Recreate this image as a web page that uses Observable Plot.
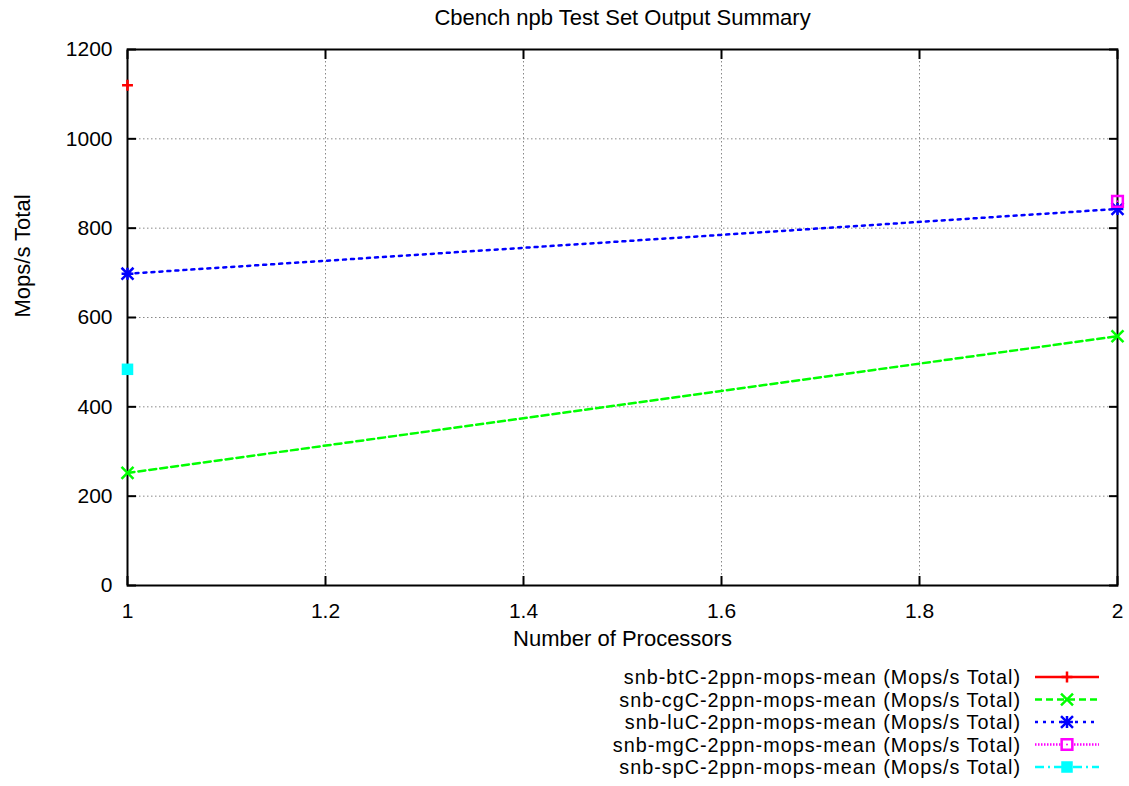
<!DOCTYPE html>
<html><head><meta charset="utf-8">
<script src="https://cdn.jsdelivr.net/npm/d3@7"></script>
<script src="https://cdn.jsdelivr.net/npm/@observablehq/plot@0.6"></script>
<style>
html,body{margin:0;padding:0;background:#fff;}
#wrap{position:relative;width:1129px;height:786px;font-family:"Liberation Sans",Arial,sans-serif;}
#legend{position:absolute;left:0;top:0;pointer-events:none;}
</style></head><body><div id="wrap"></div>
<script>
// ---- data ----
const chartTitle = "Cbench npb Test Set Output Summary";
const xLabel = "Number of Processors";
const yLabel = "Mops/s Total";
const seriesNames = [
  "snb-btC-2ppn-mops-mean (Mops/s Total)",
  "snb-cgC-2ppn-mops-mean (Mops/s Total)",
  "snb-luC-2ppn-mops-mean (Mops/s Total)",
  "snb-mgC-2ppn-mops-mean (Mops/s Total)",
  "snb-spC-2ppn-mops-mean (Mops/s Total)"
];
const seriesX = [[1], [1, 2], [1, 2], [2], [1]];
const seriesY = [[1120], [252, 558], [698, 843], [860], [484]];
const xTicks = [1, 1.2, 1.4, 1.6, 1.8, 2];
const yTicks = [0, 200, 400, 600, 800, 1000, 1200];

// ---- styles ----
const seriesColors = ["#ff0000", "#00ff00", "#0000ff", "#ff00ff", "#00ffff"];
const seriesDash = [null, "7,4", "3,5", "1.5,1.5", "9,4,2,4"];
// symbol lists: [symbolName, r, filled]
const seriesSymbols = [
  [["plus", 3.6, false]],
  [["times", 5.5, false]],
  [["plus", 3.9, false], ["times", 5.5, false]],
  [["square2", 6.8, false], ["circle", 1, true]],
  [["square", 6.5, true]]
];

const rows = seriesNames.flatMap((name, i) =>
  seriesX[i].map((x, j) => ({series: name, idx: i, x, y: seriesY[i][j]})));

const FONT = '"Liberation Sans", Arial, sans-serif';
const marks = [
  Plot.gridX(xTicks, {stroke: "#888", strokeOpacity: 1, strokeWidth: 1, strokeDasharray: "1.5,2.5"}),
  Plot.gridY(yTicks, {stroke: "#888", strokeOpacity: 1, strokeWidth: 1, strokeDasharray: "1.5,2.5"}),
  Plot.frame({stroke: "black", strokeWidth: 2}),
  Plot.axisX({ticks: xTicks, tickSize: -9, tickPadding: 27, strokeWidth: 2, label: null, fontSize: 21,
              tickFormat: d => String(d)}),
  Plot.axisX({anchor: "top", ticks: xTicks, tickSize: -9, strokeWidth: 2, label: null, tickFormat: () => ""}),
  Plot.axisY({ticks: yTicks, tickSize: -9, tickPadding: 24, strokeWidth: 2, label: null, fontSize: 21,
              tickFormat: d => String(d)}),
  Plot.axisY({anchor: "right", ticks: yTicks, tickSize: -9, strokeWidth: 2, label: null, tickFormat: () => ""}),
  Plot.text([chartTitle], {frameAnchor: "top", dy: -25, lineAnchor: "bottom", fontSize: 22, fill: "black"}),
  Plot.text([xLabel], {frameAnchor: "bottom", dy: 60, lineAnchor: "bottom", fontSize: 22, fill: "black"}),
  Plot.text([yLabel], {frameAnchor: "left", rotate: -90, dx: -105, lineAnchor: "middle", fontSize: 22, fill: "black"})
];
seriesNames.forEach((name, i) => {
  const d = rows.filter(r => r.idx === i);
  marks.push(Plot.line(d, {x: "x", y: "y", stroke: seriesColors[i], strokeWidth: 2.5,
    strokeDasharray: seriesDash[i] || undefined}));
});
seriesNames.forEach((name, i) => {
  const d = rows.filter(r => r.idx === i);
  seriesSymbols[i].forEach(([sym, r, filled]) => {
    marks.push(Plot.dot(d, {x: "x", y: "y", symbol: sym, r,
      fill: filled ? seriesColors[i] : "none",
      stroke: filled ? "none" : seriesColors[i],
      strokeWidth: filled ? 0 : 2.5}));
  });
});

const chart = Plot.plot({
  width: 1129, height: 786,
  marginLeft: 127, marginRight: 12, marginTop: 49, marginBottom: 201,
  x: {domain: [1, 2]},
  y: {domain: [0, 1200]},
  style: {fontFamily: FONT, fontSize: "21px", color: "black", background: "white", overflow: "visible"},
  marks
});
document.getElementById("wrap").appendChild(chart);

// ---- legend ----
const symMap = {plus: d3.symbolPlus, times: d3.symbolTimes, square2: d3.symbolSquare2,
                square: d3.symbolSquare, circle: d3.symbolCircle};
const LG_TOP = 677, LG_STEP = 22.5;
const lg = d3.select("#wrap").append("svg").attr("id", "legend")
  .attr("width", 1129).attr("height", 786);
seriesNames.forEach((name, i) => {
  const cy = LG_TOP + i * LG_STEP;
  lg.append("text").attr("x", 1021).attr("y", cy + 7)
    .attr("text-anchor", "end").attr("font-family", FONT).attr("font-size", 19.8)
    .attr("letter-spacing", "1px").attr("fill", "black").text(name);
  lg.append("line").attr("x1", 1035).attr("x2", 1099).attr("y1", cy).attr("y2", cy)
    .attr("stroke", seriesColors[i]).attr("stroke-width", 2.5)
    .attr("stroke-dasharray", seriesDash[i]);
  seriesSymbols[i].forEach(([sym, r, filled]) => {
    lg.append("path")
      .attr("d", d3.symbol(symMap[sym], Math.PI * r * r)())
      .attr("transform", `translate(1067,${cy})`)
      .attr("fill", filled ? seriesColors[i] : (sym === "square2" ? "white" : "none"))
      .attr("stroke", filled ? "none" : seriesColors[i])
      .attr("stroke-width", 2.5);
  });
});
</script></body></html>
